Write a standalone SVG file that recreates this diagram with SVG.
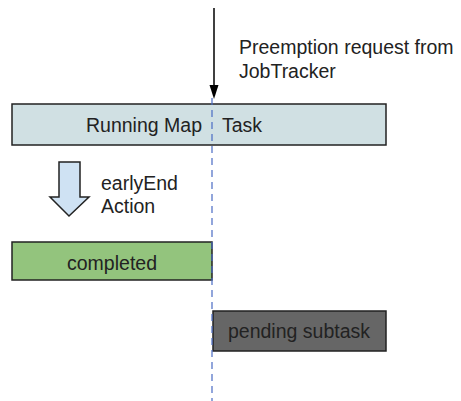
<svg xmlns="http://www.w3.org/2000/svg" width="461" height="401" viewBox="0 0 461 401">
<style>
text{font-family:"Liberation Sans",Arial,sans-serif;font-size:19.5px;fill:#222}
.box{stroke:#222;stroke-width:1.5}
</style>
<defs>
<marker id="ah" markerWidth="10" markerHeight="12" refX="5" refY="11" orient="auto-start-reverse" markerUnits="userSpaceOnUse" viewBox="0 0 10 12"><path d="M0,0 L5,12 L10,0 z" fill="#000" transform="rotate(-90 5 6)"/></marker>
</defs>
<rect width="461" height="401" fill="#fff"/>
<g id="running-task"><rect class="box" x="12" y="104" width="374" height="41" fill="#d0e0e3"/><text x="86" y="132">Running Map</text><text x="222" y="132">Task</text></g>
<g id="completed"><rect class="box" x="12" y="242" width="200" height="38" fill="#93c47d"/><text x="112" y="270" text-anchor="middle">completed</text></g>
<g id="pending"><rect class="box" x="213" y="311" width="173" height="40" fill="#666666"/><text x="299" y="338" text-anchor="middle">pending subtask</text></g>
<g id="early-end"><path d="M59,162 H80 V197 H89 L69,216 L50,197 H59 Z" fill="#cfe2f3" stroke="#222" stroke-width="1.5" stroke-linejoin="miter"/><text x="101" y="190">earlyEnd</text><text x="101" y="213">Action</text></g>
<g id="preemption-label"><text x="239" y="54">Preemption request from</text><text x="239" y="78">JobTracker</text></g>
<g id="connectors">
<line x1="212" y1="98" x2="212" y2="401" stroke="#4a6bc4" stroke-width="1.2" stroke-dasharray="7,5"/>
<path d="M214,8 V86" stroke="#000" stroke-width="1.5" fill="none"/>
<path d="M209.5,85 L218.5,85 L214,99 Z" fill="#000"/>
</g>
</svg>
